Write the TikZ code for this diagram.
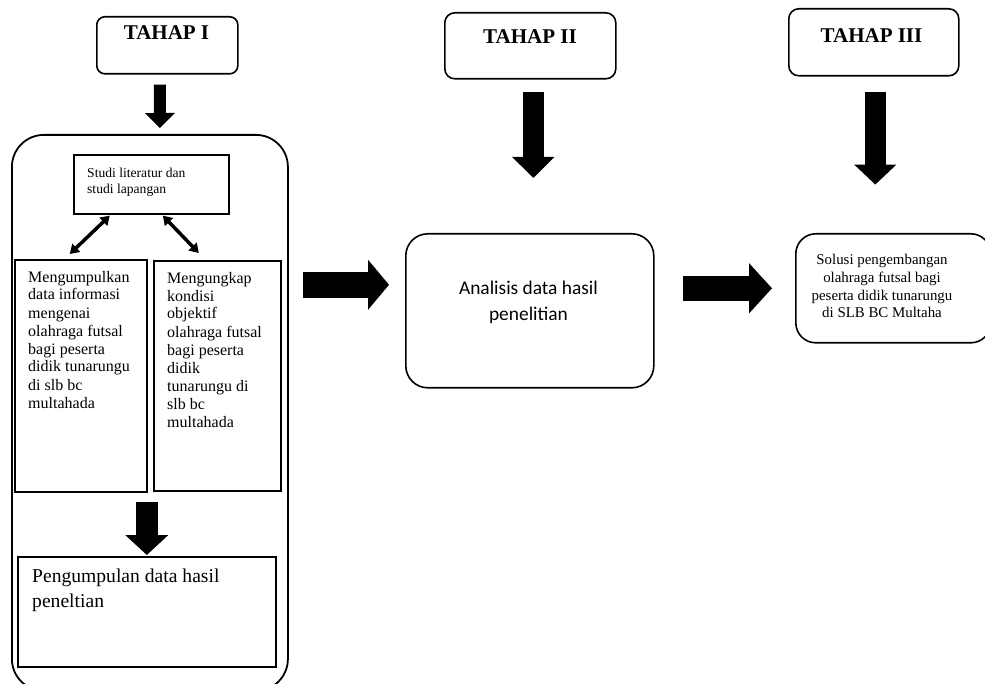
\documentclass[tikz,border=0pt]{standalone}
\usepackage{fontspec}
\setmainfont{Liberation Serif}
\newfontfamily\calibri{Carlito}
\usetikzlibrary{arrows.meta}

\tikzset{
  kotak/.style={draw, line width=1.6pt, inner sep=0pt, anchor=north west},
  bulat/.style={kotak, rounded corners=#1},
  teks/.style={inner sep=0pt, align=left, anchor=base west},
  judul/.style={inner sep=0pt, anchor=base, font=\fontsize{21}{24}\selectfont\bfseries},
  panah/.style args={#1/#2/#3}{line width=#1pt, -{Triangle[width=#2pt,length=#3pt]}},
  dua/.style={line width=3.5pt, {Triangle[width=11pt,length=9pt]}-{Triangle[width=11pt,length=9pt]}}
}

\begin{document}
\begin{tikzpicture}[x=1pt, y=-1pt]
		%%%%% START %%%%%
		\useasboundingbox (0,0) rectangle (985,684);
		\clip (0,0) rectangle (985,684);
		
		% tahap
		\node[bulat=8pt, minimum width=141pt, minimum height=57pt] (tahap1) at (96,16) {};
		\node[bulat=10pt, minimum width=171pt, minimum height=66pt] (tahap2) at (444,12) {};
		\node[bulat=10pt, minimum width=170pt, minimum height=67pt] (tahap3) at (788,8) {};
		\node[judul] (lbl1) at (166.5,40) {TAHAP I};
		\node[judul] (lbl2) at (530,44) {TAHAP II};
		\node[judul] (lbl3) at (871.5,43) {TAHAP III};
		
		% tahap I (base = baris terakhir)
		\node[bulat=32pt, line width=1.8pt, minimum width=276pt, minimum height=556pt] (besar) at (11,134) {};
		
		\node[kotak, minimum width=155pt, minimum height=59pt] (studi) at (73,154) {};
		\node[teks, font=\fontsize{13.6}{16}\selectfont] (tstudi) at (87,194) {Studi literatur dan\\studi lapangan};
		
		\node[kotak, minimum width=132pt, minimum height=232pt] (kumpul) at (14,259) {};
		\node[teks, font=\fontsize{16}{18}\selectfont] (tkumpul) at (28,408) {Mengumpulkan\\data informasi\\mengenai\\olahraga futsal\\bagi peserta\\didik tunarungu\\di slb bc\\multahada};
		
		\node[kotak, minimum width=127pt, minimum height=230pt] (ungkap) at (153,260) {};
		\node[teks, font=\fontsize{16}{18}\selectfont] (tungkap) at (167,427) {Mengungkap\\kondisi\\objektif\\olahraga futsal\\bagi peserta\\didik\\tunarungu di\\slb bc\\multahada};
		
		\node[kotak, minimum width=258pt, minimum height=110pt] (hasil) at (17,556) {};
		\node[teks, font=\fontsize{19.6}{25}\selectfont] (thasil) at (32,607) {Pengumpulan data hasil\\peneltian};
		
		\draw[dua] ([xshift=-41.5pt,yshift=-1pt]studi.south) -- ([xshift=-11pt,yshift=5pt]kumpul.north);
		\draw[dua] ([xshift=11.5pt,yshift=-1pt]studi.south) -- ([xshift=-18.5pt,yshift=7pt]ungkap.north);
		
		% tahap II dan III
		\node[bulat=22pt, minimum width=248pt, minimum height=154pt] (analisis) at (405,233) {};
		\node[inner sep=0pt, anchor=base, align=center, font=\calibri\fontsize{19.4}{26}\selectfont] (tanalisis) at (528.5,321) {Analisis data hasil\\penelitian};
		
		\node[bulat=20pt, minimum width=195pt, minimum height=109pt] (solusi) at (795,233) {};
		\node[inner sep=0pt, anchor=base, align=center, font=\fontsize{14.9}{17.7}\selectfont] (tsolusi) at (882,318) {Solusi pengembangan\\olahraga futsal bagi\\peserta didik tunarungu\\di SLB BC Multaha};
		
		% panah
		\draw[panah=12/29/15] ([xshift=-7.5pt,yshift=-10pt]tahap1.south) -- ([xshift=10pt,yshift=6pt]besar.north);
		\draw[panah=21/41/21] ([xshift=3pt,yshift=-12pt]tahap2.south) -- ([xshift=3.5pt,yshift=55pt]analisis.north);
		\draw[panah=21/41/20] ([xshift=1.5pt,yshift=-15pt]tahap3.south) -- ([xshift=1.5pt,yshift=-108pt]tahap3.south);
		\draw[panah=22/42/20] ([yshift=54pt]hasil.north) -- ([yshift=1pt]hasil.north);
		\draw[panah=26/49/21] ([xshift=-102pt,yshift=26pt]analisis.west) -- ([xshift=-16pt,yshift=26pt]analisis.west);
		\draw[panah=25/49/23] ([xshift=-112pt]solusi.west) -- ([xshift=-23pt]solusi.west);
		
		%%%%% END %%%%%
	\end{tikzpicture}
\end{document}
